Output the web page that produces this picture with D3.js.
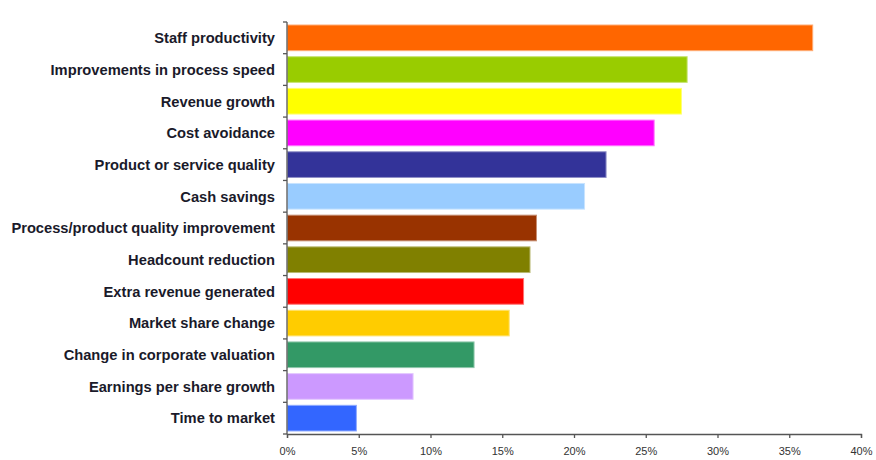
<!DOCTYPE html>
<html>
<head>
<meta charset="utf-8">
<script src="https://cdn.jsdelivr.net/npm/d3@7"></script>
<style>
  html, body { margin: 0; padding: 0; background: #fff; }
  svg { display: block; }
</style>
</head>
<body>
<svg id="chart" width="876" height="460"></svg>
<script>
const categories = [
  "Staff productivity",
  "Improvements in process speed",
  "Revenue growth",
  "Cost avoidance",
  "Product or service quality",
  "Cash savings",
  "Process/product quality improvement",
  "Headcount reduction",
  "Extra revenue generated",
  "Market share change",
  "Change in corporate valuation",
  "Earnings per share growth",
  "Time to market"
];
const values = [36.6, 27.85, 27.45, 25.55, 22.2, 20.7, 17.35, 16.9, 16.45, 15.45, 13.0, 8.75, 4.8];
const colors = ["#FF6600", "#99CC00", "#FFFF00", "#FF00FF", "#333399", "#99CCFF",
                "#993300", "#808000", "#FF0000", "#FFCC00", "#339966", "#CC99FF", "#3366FF"];
const xTicks = [0, 5, 10, 15, 20, 25, 30, 35, 40];

(function () {
const svg = d3.select("#chart");
const mLeft = 287, mRight = 861, mTop = 22, mBottom = 434;

const x = d3.scaleLinear().domain([0, 40]).range([mLeft, mRight]);
const y = d3.scaleBand().domain(categories).range([mTop, mBottom]).paddingInner(0.19).paddingOuter(0.095);

const lighten = c => d3.interpolateRgb(c, "#ffffff")(0.45);

svg.append("g").selectAll("rect")
  .data(categories)
  .join("rect")
  .attr("x", x(0) + 0.5)
  .attr("y", d => y(d))
  .attr("width", (d, i) => x(values[i]) - x(0))
  .attr("height", y.bandwidth())
  .attr("fill", (d, i) => colors[i])
  .attr("stroke", (d, i) => lighten(colors[i]))
  .attr("stroke-width", 1);

// Y axis (ticks at band boundaries)
const yAxis = svg.append("g");
yAxis.append("line")
  .attr("x1", mLeft).attr("x2", mLeft)
  .attr("y1", mTop).attr("y2", mBottom)
  .attr("stroke", "#555").attr("stroke-width", 1.3);
const boundaries = d3.range(categories.length + 1).map(i => mTop + i * (mBottom - mTop) / categories.length);
yAxis.selectAll("line.t").data(boundaries).join("line")
  .attr("class", "t")
  .attr("x1", mLeft - 4).attr("x2", mLeft)
  .attr("y1", d => d).attr("y2", d => d)
  .attr("stroke", "#555").attr("stroke-width", 1.3);

yAxis.selectAll("text").data(categories).join("text")
  .attr("x", 275)
  .attr("y", d => y(d) + y.bandwidth() / 2)
  .attr("dy", "0.36em")
  .attr("text-anchor", "end")
  .attr("font-family", "'Liberation Sans', Arial, sans-serif")
  .attr("font-weight", "bold")
  .attr("font-size", "14.7px")
  .attr("fill", "#1a1a2a")
  .text(d => d);

// X axis
const xAxis = d3.axisBottom(x)
  .tickValues(xTicks)
  .tickFormat(d => d + "%")
  .tickSize(4)
  .tickSizeOuter(4)
  .tickPadding(9);
const gx = svg.append("g").attr("transform", `translate(0,${mBottom})`).call(xAxis);
gx.select(".domain").attr("stroke", "#555").attr("stroke-width", 1.3);
gx.selectAll(".tick line").attr("stroke", "#555").attr("stroke-width", 1.3);
gx.selectAll(".tick text")
  .attr("font-family", "'Liberation Sans', Arial, sans-serif")
  .attr("font-size", "11px")
  .attr("fill", "#333");
})();
</script>
</body>
</html>
